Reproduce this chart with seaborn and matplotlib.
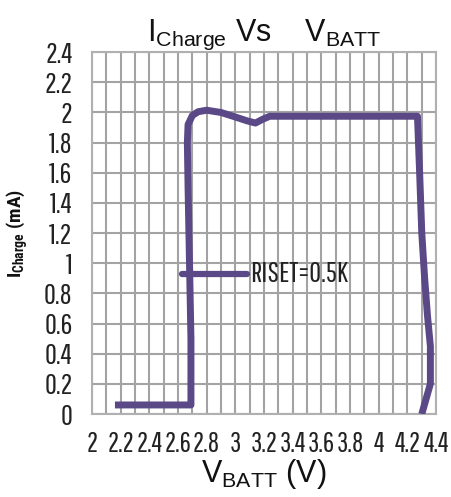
import numpy as np
import matplotlib
matplotlib.use('Agg')
import matplotlib.pyplot as plt
from matplotlib import font_manager
import pandas as pd
import seaborn as sns

# 資料
vbatt = [2.16, 2.69, 2.69, 2.68, 2.67, 2.665, 2.67, 2.70, 2.74, 2.80, 2.90, 3.00,
         3.08, 3.14, 3.19, 3.24, 3.5, 4.0, 4.27, 4.285, 4.30, 4.32, 4.34, 4.36, 4.36, 4.33, 4.30]
icharge = [0.06, 0.06, 0.5, 1.0, 1.5, 1.80, 1.92, 1.98, 2.005, 2.015, 2.00, 1.97,
           1.945, 1.93, 1.955, 1.975, 1.975, 1.975, 1.975, 1.6, 1.2, 0.9, 0.65, 0.45, 0.2, 0.1, 0.0]
label_x = [2.63, 3.08]
label_y = [0.93, 0.93]
label_text = 'RISET=0.5K'
xticks = [2.0, 2.2, 2.4, 2.6, 2.8, 3.0, 3.2, 3.4, 3.6, 3.8, 4.0, 4.2, 4.4]
xticklabels = ['2', '2.2', '2.4', '2.6', '2.8', '3', '3.2', '3.4', '3.6', '3.8', '4', '4.2', '4.4']
yticks = [0, 0.2, 0.4, 0.6, 0.8, 1.0, 1.2, 1.4, 1.6, 1.8, 2.0, 2.2, 2.4]
yticklabels = ['0', '0.2', '0.4', '0.6', '0.8', '1', '1.2', '1.4', '1.6', '1.8', '2', '2.2', '2.4']

sns.set_style('white')
names = {f.name for f in font_manager.fontManager.ttflist}


def pick(cands):
    for c in cands:
        if c in names:
            return c
    return 'DejaVu Sans'


narrow = pick(['Pathway Gothic One', 'Liberation Sans Narrow', 'Roboto Condensed'])
narrow_bold = pick(['Roboto Condensed', 'Oswald', 'Liberation Sans Narrow'])
plt.rcParams['font.family'] = ['Liberation Sans', 'DejaVu Sans']
plt.rcParams['mathtext.fontset'] = 'custom'
plt.rcParams['mathtext.rm'] = 'Liberation Sans'

line_color = '#5b4886'
grid_color = '#a3a3a3'

fig = plt.figure(figsize=(4.51, 4.97), dpi=100)
ax = fig.add_axes([0.204, 0.167, 0.763, 0.728])

df = pd.DataFrame({'VBATT': vbatt, 'ICHARGE': icharge})
sns.lineplot(data=df, x='VBATT', y='ICHARGE', sort=False, estimator=None,
             color=line_color, linewidth=5, solid_capstyle='butt',
             solid_joinstyle='round', ax=ax, zorder=3)
sns.lineplot(x=label_x, y=label_y, sort=False, estimator=None, color=line_color,
             linewidth=4.5, ax=ax, zorder=3)
ax.text(label_x[1] + 0.02, label_y[1], label_text, family=narrow, fontsize=21,
        color='#222222', va='center', ha='left', zorder=4)

ax.set_xlim(2.0, 4.4)
ax.set_ylim(0, 2.4)
ax.set_xticks(xticks)
ax.set_xticklabels(xticklabels, family=narrow, fontsize=20, color='#222222')
ax.set_yticks(yticks)
ax.set_yticklabels(yticklabels, family=narrow, fontsize=21, color='#222222')
ax.set_xticks(np.arange(2.1, 4.4, 0.2), minor=True)
ax.tick_params(which='both', length=0)
ax.tick_params(axis='x', pad=12)
ax.tick_params(axis='y', pad=14)
ax.grid(True, which='major', color=grid_color, linewidth=1.5, zorder=1)
ax.grid(True, which='minor', axis='x', color=grid_color, linewidth=1.5, zorder=1)
for s in ax.spines.values():
    s.set_color('#b0b0b0')
    s.set_linewidth(1.5)

ax.set_xlabel(r'$\mathregular{V_{BATT}}$ (V)', fontsize=22, labelpad=0, color='#111111')
ax.set_ylabel(r'$\mathregular{I_{Charge}}$ (mA)', family=narrow_bold, fontsize=14,
              fontweight='bold', labelpad=10, color='#111111')
ax.set_title(r'$\mathregular{I_{Charge}}$ Vs    $\mathregular{V_{BATT}}$', fontsize=22,
             pad=8, color='#111111')

fig.savefig('out.png', dpi=100)
